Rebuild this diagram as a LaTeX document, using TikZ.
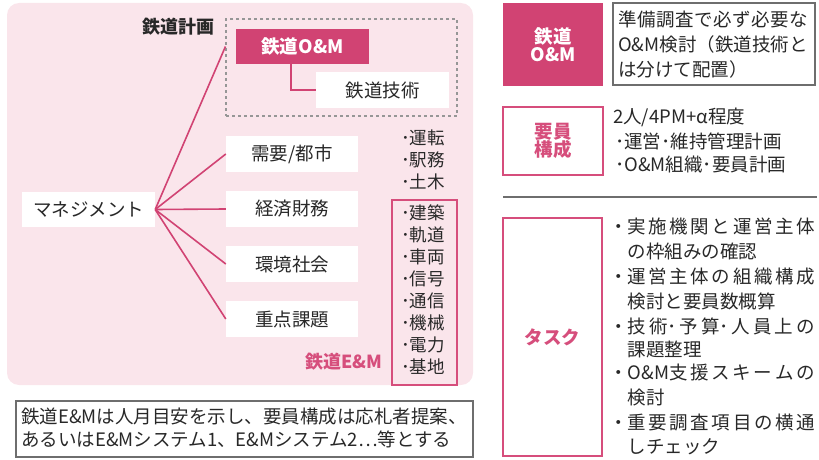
\documentclass[tikz,border=0pt]{standalone}
\usepackage{fontspec}
\setmainfont{Noto Sans CJK JP}
\definecolor{mag}{RGB}{209,67,115}
\definecolor{bgpink}{RGB}{250,229,235}
\definecolor{pinkline}{RGB}{214,78,124}
\definecolor{txt}{RGB}{40,40,40}
\definecolor{grayline}{RGB}{110,110,110}
\definecolor{dashgray}{RGB}{150,150,150}
\newcommand{\fs}[1]{\fontsize{#1}{#1}\selectfont}
\tikzset{
  wbox/.style={fill=white, inner sep=0pt, text=txt, font=\fs{18.5}},
  conn/.style={draw=mag, line width=1.6pt},
  tl/.style={anchor=base west, inner sep=0pt, text=txt, font=\fs{18.5}},
  li/.style={anchor=base, inner sep=0pt, text=txt, font=\fs{17.5}},
  pinkbox/.style={draw=pinkline, line width=1.6pt, fill=white, inner sep=0pt, text=pinkline, font=\bfseries\fs{18.5}, align=center},
  graybox/.style={draw=grayline, line width=1.1pt, inner sep=0pt},
}
\begin{document}
\begin{tikzpicture}[x=1pt,y=-1pt]
\useasboundingbox (0,0) rectangle (819,460);
\fill[bgpink, rounded corners=12pt] (7,3) rectangle (473,385);

% plan group
\node[draw=dashgray, dashed, line width=1.1pt, minimum width=231pt, minimum height=97pt, inner sep=0pt] (plan) at (341.5,67.5) {};
\node[anchor=base, inner sep=0pt, text=txt, font=\bfseries\fs{18}] (plantitle) at (178,33.5) {鉄道計画};
\node[fill=mag, text=white, font=\bfseries\fs{18.5}, minimum width=133pt, minimum height=35pt, inner sep=0pt] (om) at (302.5,46.5) {鉄道O\&M};
\node[wbox, minimum width=133pt, minimum height=36pt] (gij) at (382.5,90) {鉄道技術};
\draw[conn] (om.south) ++(-11.5,0) |- (gij.west);

% tree
\node[wbox, minimum width=133pt, minimum height=35pt] (mgmt) at (88.5,209.5) {マネジメント};
\node[wbox, minimum width=132pt, minimum height=36pt] (jy) at (292,154) {需要/都市};
\node[wbox, minimum width=132pt, minimum height=36pt] (kz) at (292,209) {経済財務};
\node[wbox, minimum width=132pt, minimum height=36pt] (kk) at (292,264) {環境社会};
\node[wbox, minimum width=132pt, minimum height=36pt] (jt) at (292,319) {重点課題};
\draw[conn] (mgmt.east) -- (plan.west |- om.center);
\draw[conn] (mgmt.east) -- (jy.west);
\draw[conn] (mgmt.east) -- (kz.west);
\draw[conn] (mgmt.east) -- (kk.west);
\draw[conn] (mgmt.east) -- (jt.west);

% lists
\node[li] (l1) at (423,144.5) {･運転};
\node[li] (l2) at (423,166.5) {･駅務};
\node[li] (l3) at (423,188.5) {･土木};
\node[draw=pinkline, line width=1.4pt, minimum width=65pt, minimum height=185pt, inner sep=0pt] (em) at (424.5,292.5) {};
\node[li] (e1) at (423,219.5) {･建築};
\node[li] (e2) at (423,241.5) {･軌道};
\node[li] (e3) at (423,263.5) {･車両};
\node[li] (e4) at (423,285.5) {･信号};
\node[li] (e5) at (423,307.5) {･通信};
\node[li] (e6) at (423,329.5) {･機械};
\node[li] (e7) at (423,351.5) {･電力};
\node[li] (e8) at (423,373.5) {･基地};
\node[anchor=base, inner sep=0pt, text=pinkline, font=\bfseries\fs{18}] (emlabel) at (344,368.5) {鉄道E\&M};

% note
\node[graybox, minimum width=457pt, minimum height=56pt] (note) at (244.5,429) {};
\node[tl] (n1) at (21,423.5) {鉄道E\&Mは人月目安を示し、要員構成は応札者提案、};
\node[tl] (n2) at (21,446.5) {あるいはE\&Mシステム1、E\&Mシステム2⋯等とする};

% right column
\node[fill=mag, text=white, font=\bfseries\fs{18.5}, minimum width=100pt, minimum height=83pt, inner sep=0pt, align=center] (rom) at (553,44.5) {\fontsize{18.5}{25}\selectfont 鉄道\\O\&M};
\node[graybox, minimum width=202pt, minimum height=82pt] (rtext) at (714,44) {};
\node[tl] (r1) at (618,26.5) {\hbox to 190pt{準\hfil 備\hfil 調\hfil 査\hfil で\hfil 必\hfil ず\hfil 必\hfil 要\hfil な}};
\node[tl] (r2) at (618,51.5) {\hbox to 190pt{O\&M検討（鉄道技術\hfil と}};
\node[tl] (r3) at (618,76.5) {は分けて配置）};

\node[pinkbox, minimum width=100pt, minimum height=68pt] (yoin) at (553,141) {\fontsize{18.5}{24}\selectfont 要員\\構成};
\node[tl] (y1) at (613,123.5) {2人/4PM+α程度};
\node[tl] (y2) at (615,148.5) {･運営･維持管理計画};
\node[tl] (y3) at (615,171.5) {･O\&M組織･要員計画};

\coordinate (hl1) at (503,197);
\coordinate (hl2) at (817,197);
\draw[grayline, line width=1.1pt] (hl1) -- (hl2);

\node[pinkbox, minimum width=99pt, minimum height=238pt] (task) at (552.5,337) {タスク};
\node[tl] (t1) at (609,233.5) {・\hbox to 187pt{実\hfil 施\hfil 機\hfil 関\hfil と\hfil 運\hfil 営\hfil 主\hfil 体}};
\node[tl] (t2) at (627.5,258.5) {の枠組みの確認};
\node[tl] (t3) at (609,283.5) {・\hbox to 187pt{運\hfil 営\hfil 主\hfil 体\hfil の\hfil 組\hfil 織\hfil 構\hfil 成}};
\node[tl] (t4) at (627.5,308.5) {検討と要員数概算};
\node[tl] (t5) at (609,333.5) {・\hbox to 187pt{技\hfil 術･\hfil 予\hfil 算･\hfil 人\hfil 員\hfil 上\hfil の}};
\node[tl] (t6) at (627.5,356.5) {課題整理};
\node[tl] (t7) at (609,379.5) {・\hbox to 187pt{O\&M支\hfil 援\hfil ス\hfil キ\hfil ー\hfil ム\hfil の}};
\node[tl] (t8) at (627.5,404.5) {検討};
\node[tl] (t9) at (609,429.5) {・\hbox to 187pt{重\hfil 要\hfil 調\hfil 査\hfil 項\hfil 目\hfil の\hfil 横\hfil 通}};
\node[tl] (t10) at (627.5,453.5) {しチェック};
\end{tikzpicture}
\end{document}
